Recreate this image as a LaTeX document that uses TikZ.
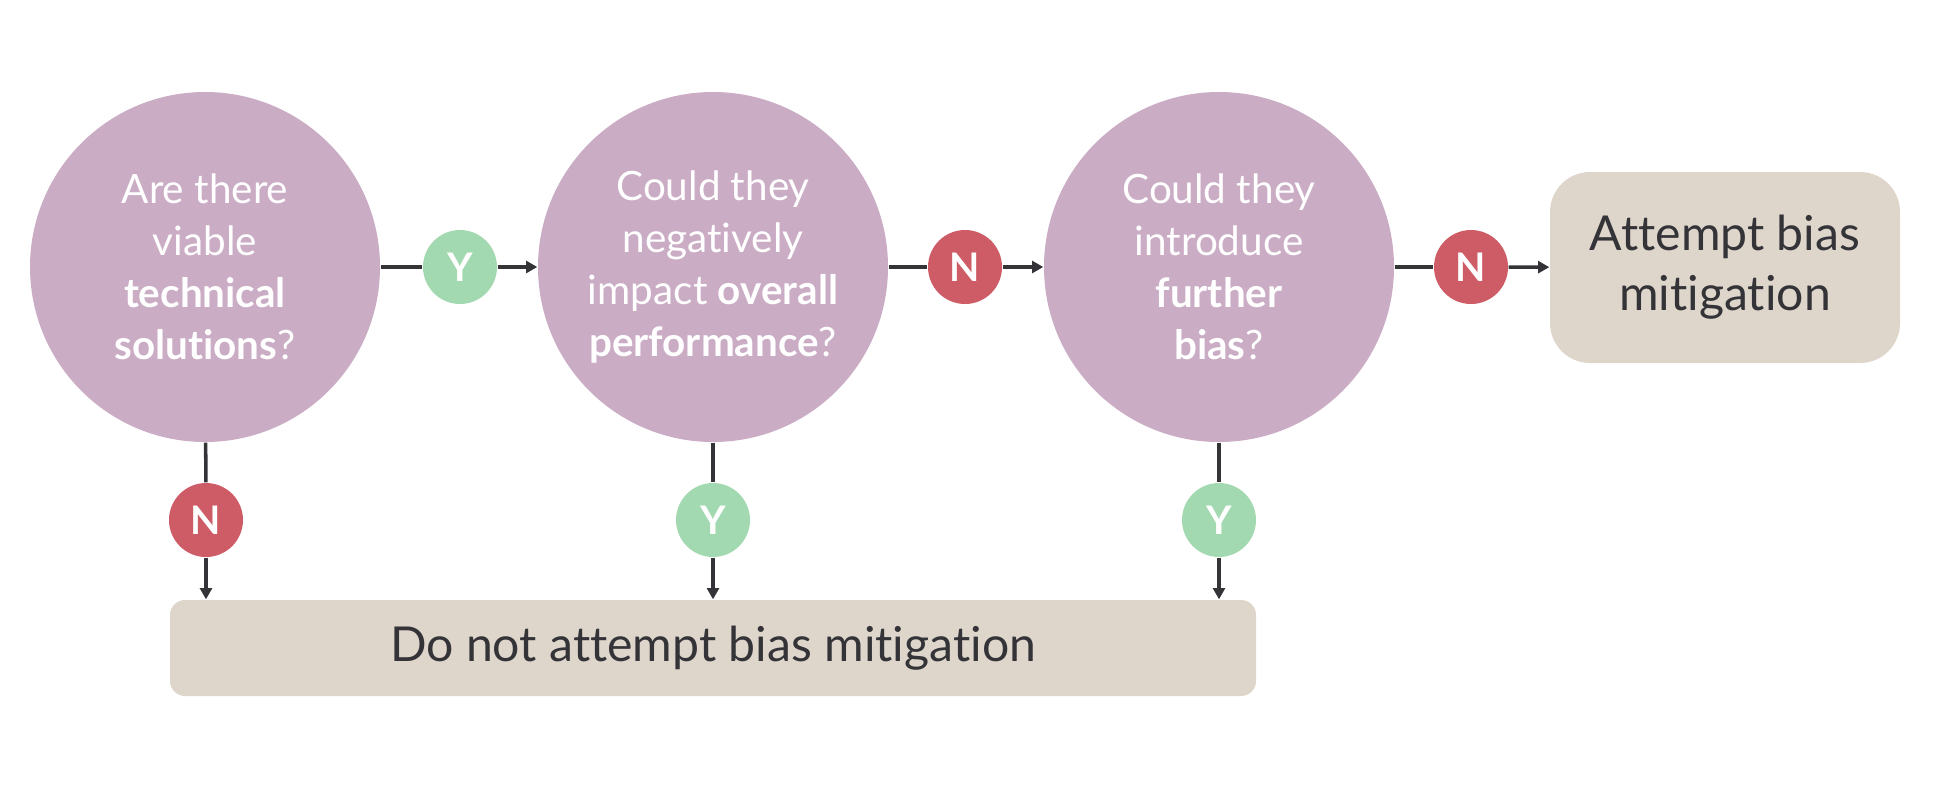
\documentclass[tikz,border=0pt]{standalone}
\usepackage{fontspec}
\setmainfont[Ligatures={NoCommon}]{Lato}
\usetikzlibrary{arrows.meta}
\definecolor{qpurple}{HTML}{CBACC5}
\definecolor{ygreen}{HTML}{A3D9B1}
\definecolor{nred}{HTML}{CD5C67}
\definecolor{obeige}{HTML}{DFD6CB}
\definecolor{ink}{HTML}{333338}
\tikzset{
  question/.style={circle, fill=qpurple, minimum size=3.5cm, inner sep=0pt,
    text=white, align=center, font=\fontsize{11.5}{14.8}\selectfont},
  badge/.style={circle, minimum size=0.74cm, inner sep=0pt, text=white,
    font=\fontsize{11.2}{12}\selectfont\bfseries},
  yes/.style={badge, fill=ygreen},
  no/.style={badge, fill=nred},
  outcome/.style={rectangle, fill=obeige, text=ink, align=center,
    font=\fontsize{13.7}{17}\selectfont},
  link/.style={draw=ink, line width=1pt},
  flow/.style={link, -{Triangle[length=3.2pt,width=3.4pt]}}
}
\begin{document}
\begin{tikzpicture}
  \useasboundingbox (0,0) rectangle (19.38,-8.02);
  \node[question] (q1) at (2.05, -2.67) {Are there\\viable\\\textbf{technical}\\\textbf{solutions}?};
  \node[question] (q2) at (7.13, -2.67) {Could they\\negatively\\impact \textbf{overall}\\\textbf{performance}?};
  \node[question] (q3) at (12.19, -2.67) {Could they\\introduce\\\textbf{further}\\\textbf{bias}?};
  \node[outcome, rounded corners=0.4cm, minimum width=3.5cm, minimum height=1.91cm] (go) at (17.25, -2.675) {Attempt bias\\mitigation};
  \node[outcome, rounded corners=0.15cm, minimum width=10.86cm, minimum height=0.96cm] (stop) at (7.13, -6.48) {Do not attempt bias mitigation};
  \node[yes] (y1) at (4.60, -2.67) {Y};
  \node[no] (n2) at (9.65, -2.67) {N};
  \node[no] (n3) at (14.71, -2.67) {N};
  \node[no] (n1) at (2.06, -5.20) {N};
  \node[yes] (y2) at (7.13, -5.20) {Y};
  \node[yes] (y3) at (12.19, -5.20) {Y};
  \draw[link] (q1) -- (y1);
  \draw[flow] (y1) -- (q2);
  \draw[link] (q2) -- (n2);
  \draw[flow] (n2) -- (q3);
  \draw[link] (q3) -- (n3);
  \draw[flow] (n3) -- (go);
  \draw[link] (q1) -- (n1);
  \draw[flow] (n1) -- (n1 |- stop.north);
  \draw[link] (q2) -- (y2);
  \draw[flow] (y2) -- (y2 |- stop.north);
  \draw[link] (q3) -- (y3);
  \draw[flow] (y3) -- (y3 |- stop.north);
\end{tikzpicture}
\end{document}
